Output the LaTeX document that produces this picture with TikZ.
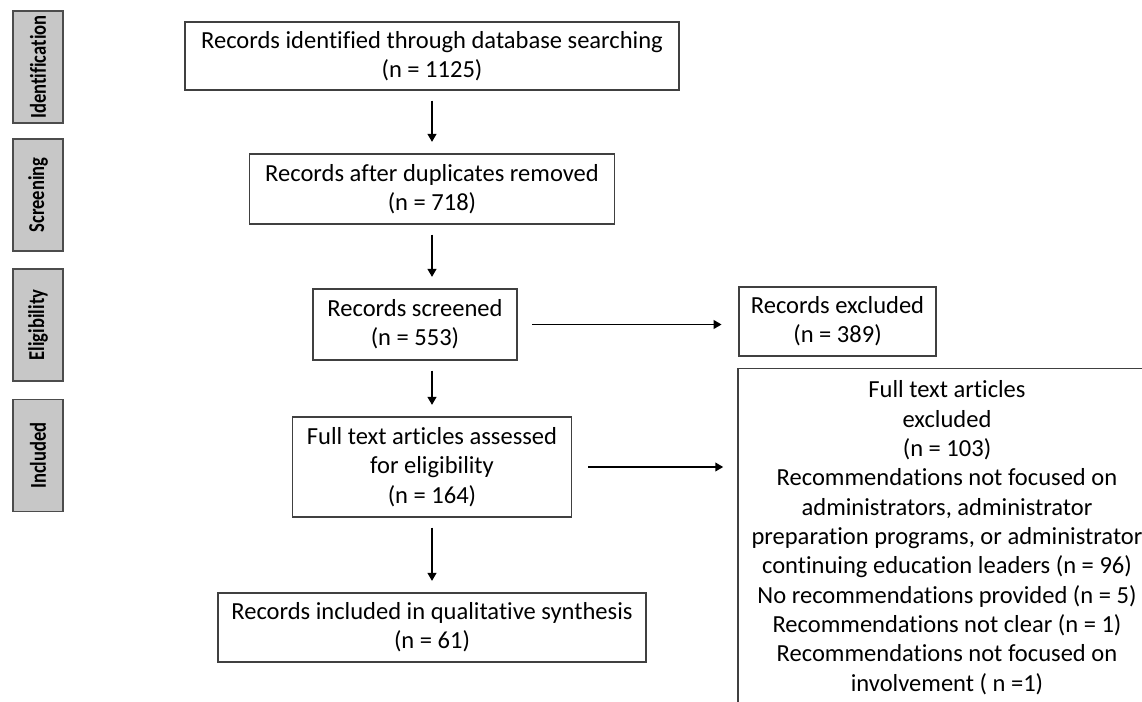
\documentclass[tikz,border=0pt]{standalone}
\usepackage{fontspec}
\setmainfont{Carlito}[Ligatures=NoCommon]
\usetikzlibrary{arrows.meta}

\tikzset{
    flowbox/.style={draw=black!75, line width=1.1pt, align=center, inner sep=2pt,
        font=\fontsize{18.4}{22}\selectfont},
    phasebox/.style={draw=black!70, fill=black!22, line width=1.1pt, rotate=90,
        minimum width=84pt, minimum height=37.5pt, inner sep=0pt,
        font=\fontsize{17}{20}\selectfont\bfseries},
    flowarrow/.style={-{Triangle[length=6pt, width=6.5pt]}, line width=1.4pt,
        shorten <=7.5pt, shorten >=8.5pt}
}
\newcommand{\phasetext}[1]{\scalebox{0.82}[1]{#1}}

\begin{document}
\begin{tikzpicture}[x=0.75pt, y=-0.75pt]
            \useasboundingbox (0, 0) rectangle (1142, 702);

            % phases
            \node[phasebox] (phaseid) at (38, 67) {\phasetext{Identification}};
            \node[phasebox] (phasescr) at (38, 195) {\phasetext{Screening}};
            \node[phasebox] (phaseelig) at (38, 325) {\phasetext{Eligibility}};
            \node[phasebox] (phaseinc) at (38, 455.5) {\phasetext{Included}};

            % main column
            \node[flowbox, minimum width=370.5pt, minimum height=51pt] (ident) at (432, 56)
                {Records identified through database searching\\(n = 1125)};
            \node[flowbox, minimum width=273.75pt, minimum height=52.5pt] (dupl) at (432, 189)
                {Records after duplicates removed\\(n = 718)};
            \node[flowbox, minimum width=153pt, minimum height=53.25pt] (screen) at (415, 324.5)
                {Records screened\\(n = 553)};
            \node[flowbox, minimum width=209.25pt, minimum height=75pt] (fulltext) at (432, 467)
                {Full text articles assessed\\for eligibility\\(n = 164)};
            \node[flowbox, minimum width=321pt, minimum height=51.75pt] (incl) at (432, 627.5)
                {Records included in qualitative synthesis\\(n = 61)};

            % exclusions
            \node[flowbox, minimum width=147.75pt, minimum height=51.75pt] (excl) at (837.5, 321.5)
                {Records excluded\\(n = 389)};
            \node[flowbox, anchor=north, minimum width=313.5pt, inner ysep=9pt] (ftexcl) at (947, 368)
                {Full text articles\\excluded\\(n = 103)\\Recommendations not focused on\\
                 administrators, administrator\\preparation programs, or administrator\\
                 continuing education leaders (n = 96)\\No recommendations provided (n = 5)\\
                 Recommendations not clear (n = 1)\\Recommendations not focused on\\
                 involvement ( n =1)};

            \draw[flowarrow] (ident) -- (dupl);
            \draw[flowarrow] (dupl) -- (dupl |- screen.north);
            \draw[flowarrow] (screen.south -| fulltext.north) -- (fulltext);
            \draw[flowarrow] (fulltext) -- (incl);
            \draw[flowarrow, shorten <=11pt, shorten >=12.5pt] (screen) -- (screen -| excl.west);
            \draw[flowarrow, shorten <=12pt, shorten >=10.5pt] (fulltext) -- (fulltext -| ftexcl.west);
        \end{tikzpicture}
\end{document}
